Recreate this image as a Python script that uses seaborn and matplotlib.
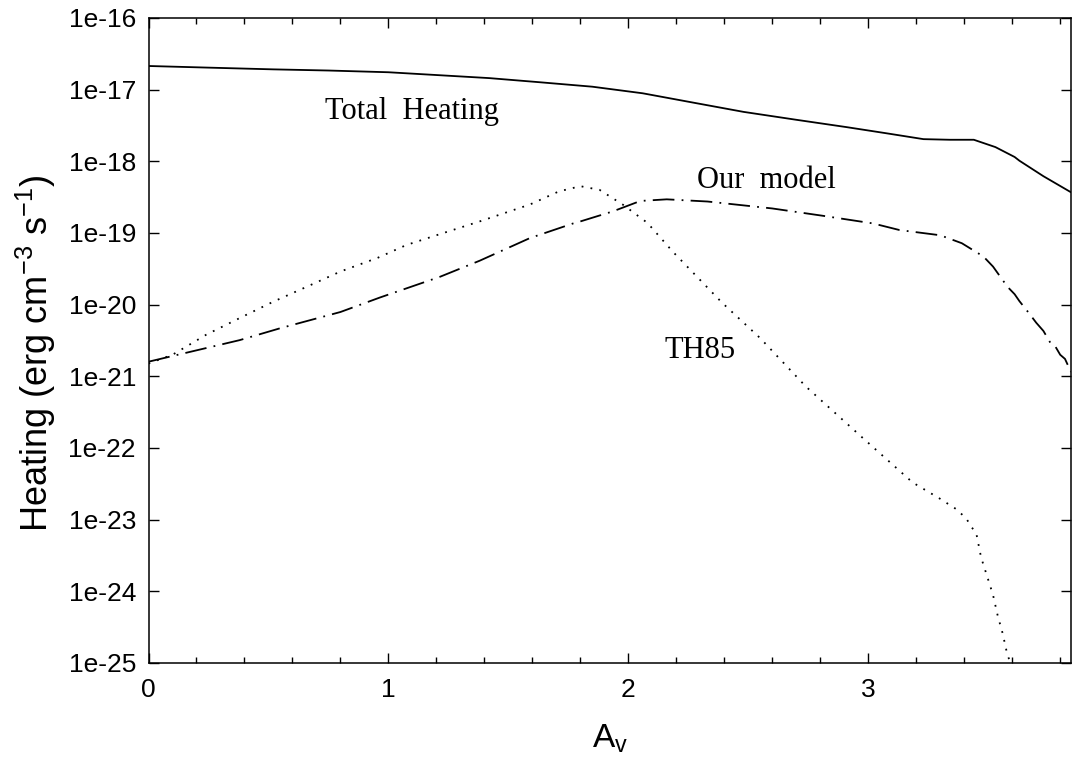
import numpy as np
import pandas as pd
import matplotlib
matplotlib.use("Agg")
import matplotlib.pyplot as plt
from matplotlib.ticker import FixedLocator, MultipleLocator, NullLocator, FuncFormatter
import seaborn as sns

# Total heating rate along the cloud depth
av_total = [0.0, 0.25, 0.52, 0.75, 1.0, 1.2, 1.42, 1.63, 1.85, 2.06, 2.27, 2.48,
            2.70, 2.91, 3.08, 3.23, 3.34, 3.44, 3.53, 3.61, 3.63, 3.73, 3.845]
heat_total = [2.14e-17, 2.03e-17, 1.92e-17, 1.85e-17, 1.75e-17, 1.6e-17,
              1.45e-17, 1.27e-17, 1.1e-17, 8.9e-18, 6.6e-18, 4.9e-18, 3.8e-18,
              3.0e-18, 2.45e-18, 2.04e-18, 2.0e-18, 2.0e-18, 1.58e-18, 1.15e-18,
              1.02e-18, 6.2e-19, 3.7e-19]

# Photoelectric heating, our model
av_model = [0.0, 0.38, 0.55, 0.80, 0.965, 1.215, 1.38, 1.59, 1.77, 1.80, 1.935,
            2.05, 2.16, 2.33, 2.60, 2.81, 3.02, 3.13, 3.30, 3.39, 3.48, 3.52,
            3.58, 3.61, 3.63, 3.67, 3.70, 3.73, 3.76, 3.78, 3.80, 3.82, 3.845]
heat_model = [1.60e-21, 3.2e-21, 4.7e-21, 7.9e-21, 1.26e-20, 2.45e-20, 4.1e-20,
              8.5e-20, 1.36e-19, 1.45e-19, 2.0e-19, 2.8e-19, 2.95e-19, 2.75e-19,
              2.2e-19, 1.74e-19, 1.36e-19, 1.10e-19, 9.3e-20, 7.2e-20, 4.7e-20,
              3.4e-20, 1.78e-20, 1.40e-20, 1.12e-20, 7.6e-21, 5.6e-21, 4.3e-21,
              2.9e-21, 2.6e-21, 2.0e-21, 1.75e-21, 1.15e-21]

# Photoelectric heating, TH85 prescription
av_th85 = [0.0, 0.10, 0.24, 0.38, 0.52, 0.66, 0.80, 0.955, 1.075, 1.20, 1.38,
           1.59, 1.71, 1.80, 1.88, 1.98, 2.08, 2.185, 2.39, 2.55, 2.74, 2.97,
           3.185, 3.30, 3.37, 3.41, 3.43, 3.45, 3.47, 3.50, 3.52, 3.54, 3.56,
           3.58, 3.60, 3.64]
heat_th85 = [1.51e-21, 2.0e-21, 3.8e-21, 6.5e-21, 1.10e-20, 1.78e-20, 2.9e-20,
             4.5e-20, 6.8e-20, 9.3e-20, 1.45e-19, 2.5e-19, 3.8e-19, 4.5e-19,
             4.0e-19, 2.45e-19, 1.38e-19, 5.5e-20, 1.07e-20, 3.4e-21, 7.2e-22,
             1.45e-22, 3.3e-23, 1.95e-23, 1.38e-23, 1.02e-23, 7.9e-24, 6.5e-24,
             3.0e-24, 1.45e-24, 8.9e-25, 4.5e-25, 2.6e-25, 1.29e-25, 8.9e-26,
             2.5e-26]

y_decades = list(range(-25, -15))

sns.set_style("ticks")
plt.rcParams["font.family"] = ["Liberation Sans", "DejaVu Sans"]
plt.rcParams["text.color"] = "black"
plt.rcParams["axes.labelcolor"] = "black"
plt.rcParams["mathtext.fontset"] = "custom"
plt.rcParams["mathtext.rm"] = "Liberation Sans"
plt.rcParams["mathtext.it"] = "Liberation Sans:italic"

W, H = 1073, 776
fig = plt.figure(figsize=(W / 100, H / 100), dpi=100)
ax = fig.add_axes([148.5 / W, 1 - 663 / H, (1071 - 148.5) / W, (663 - 18) / H])

df_total = pd.DataFrame({"Av": av_total, "Heating": heat_total})
df_model = pd.DataFrame({"Av": av_model, "Heating": heat_model})
df_th85 = pd.DataFrame({"Av": av_th85, "Heating": heat_th85})

sns.lineplot(data=df_total, x="Av", y="Heating", ax=ax, color="black",
             lw=1.3, estimator=None, sort=False)
sns.lineplot(data=df_model, x="Av", y="Heating", ax=ax, color="black",
             lw=1.3, estimator=None, sort=False, linestyle=(0, (12, 4, 1, 4)))
sns.lineplot(data=df_th85, x="Av", y="Heating", ax=ax, color="black",
             lw=1.3, estimator=None, sort=False, linestyle=(0, (1, 4)))

ax.set_yscale("log")
ax.set_xlim(0, 3.845)
ax.set_ylim(1e-25, 1e-16)

ax.yaxis.set_major_locator(FixedLocator([10.0 ** d for d in y_decades]))
ax.yaxis.set_minor_locator(NullLocator())
ax.yaxis.set_major_formatter(
    FuncFormatter(lambda v, p: "1e%d" % int(round(np.log10(v)))))
ax.xaxis.set_major_locator(MultipleLocator(1))
ax.xaxis.set_minor_locator(MultipleLocator(0.2))

ax.tick_params(which="both", direction="in", top=True, right=True,
               color="black", width=1.0, labelsize=19, labelcolor="black")
ax.tick_params(which="major", length=7)
ax.tick_params(which="minor", length=4.3)
ax.tick_params(axis="x", which="major", pad=11)
ax.tick_params(axis="y", which="major", pad=9)
for s in ax.spines.values():
    s.set_linewidth(1.1)
    s.set_color("black")

ax.set_xlabel(r"A$_\mathrm{v}$", fontsize=24, color="black")
ax.set_ylabel(r"Heating (erg cm$^{-3}$ s$^{-1}$)", fontsize=26, color="black")
ax.xaxis.set_label_coords(0.5, -0.092)
ax.yaxis.set_label_coords(-0.098, 0.48)

serif = ["Liberation Serif", "DejaVu Serif"]
for xpos, ypos, label in [(0.735, 10 ** -17.41, "Total  Heating"),
                          (2.285, 10 ** -18.372, "Our  model"),
                          (2.152, 10 ** -20.74, "TH85")]:
    ax.text(xpos, ypos, label, family=serif, fontsize=22, color="black",
            ha="left", va="baseline")

fig.savefig("out.png", dpi=100, facecolor="white")
